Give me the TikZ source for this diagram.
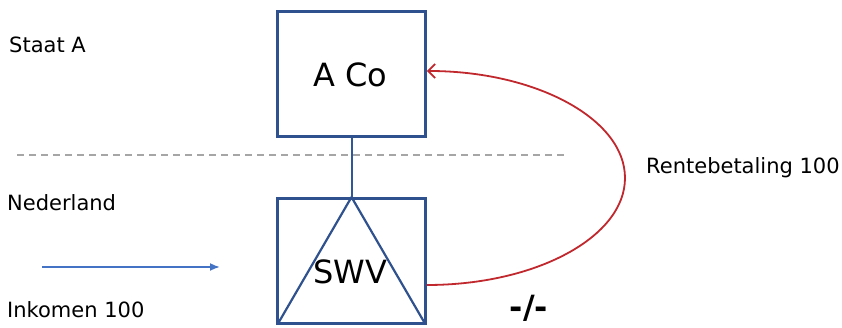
\documentclass[tikz,border=0pt]{standalone}
\usepackage{fontspec}
\setmainfont{DejaVu Sans}
\usetikzlibrary{arrows.meta}
\definecolor{boxblue}{HTML}{2F528F}
\definecolor{arrblue}{HTML}{4472C4}
\definecolor{payred}{HTML}{C0282D}
\definecolor{dashgrey}{HTML}{A6A6A6}
\tikzset{
  entity/.style={draw=boxblue, line width=2.8pt, minimum width=148pt, minimum height=125pt, inner sep=0pt},
  lbl/.style={font=\fontsize{21}{25}\selectfont, anchor=west, inner sep=0pt, text=black},
  big/.style={font=\fontsize{32}{38}\selectfont, inner sep=0pt, text=black},
}
\begin{document}
\begin{tikzpicture}[x=1pt,y=1pt]
\useasboundingbox (0,0) rectangle (842,328);
% boxes
\node[entity] (aco) at (351.5,254) {};
\node[big] (acotext) at (350,253) {A Co};
\node[entity] (swv) at (351.5,67) {};
\node[big] (swvtext) at (350,56) {SWV};
% triangle
\draw[boxblue, line width=2.2pt, line join=round] (swv.north) -- ([xshift=2pt,yshift=1.5pt]swv.south west) -- ([xshift=-2pt,yshift=1.5pt]swv.south east) -- cycle;
% border
\coordinate (dl) at (17,173);
\coordinate (dr) at (565,173);
\draw[dashgrey, line width=1.3pt, dash pattern=on 7pt off 5pt] (dl) -- (dr);
% connection
\draw[boxblue!85!arrblue, line width=2pt] (aco.south) -- (swv.north);
% labels
\node[lbl] (staat) at (9,283) {Staat A};
\node[lbl] (ned) at (7,125) {Nederland};
\node[lbl] (ink) at (7,18) {Inkomen 100};
\node[lbl] (rente) at (646,160) {Rentebetaling 100};
\node[font=\bfseries\fontsize{32}{38}\selectfont, inner sep=0pt, anchor=base, text=black] (neg) at (529,9) {-/-};
% income arrow
\coordinate (ia) at (42,61);
\coordinate (ib) at (220,61);
\draw[arrblue, line width=1.8pt, -{Latex[length=10pt,width=8pt]}] (ia) -- (ib);
% interest payment
\coordinate (r) at (625,150);
\draw[payred, line width=1.8pt, -{Straight Barb[length=7pt,width=14pt,line width=1.8pt]}]
  ([yshift=-24pt]swv.east) .. controls (536,43) and (625,91) .. (r)
  .. controls (625,209) and (536,257) .. ([yshift=3pt]aco.east);
\end{tikzpicture}
\end{document}
